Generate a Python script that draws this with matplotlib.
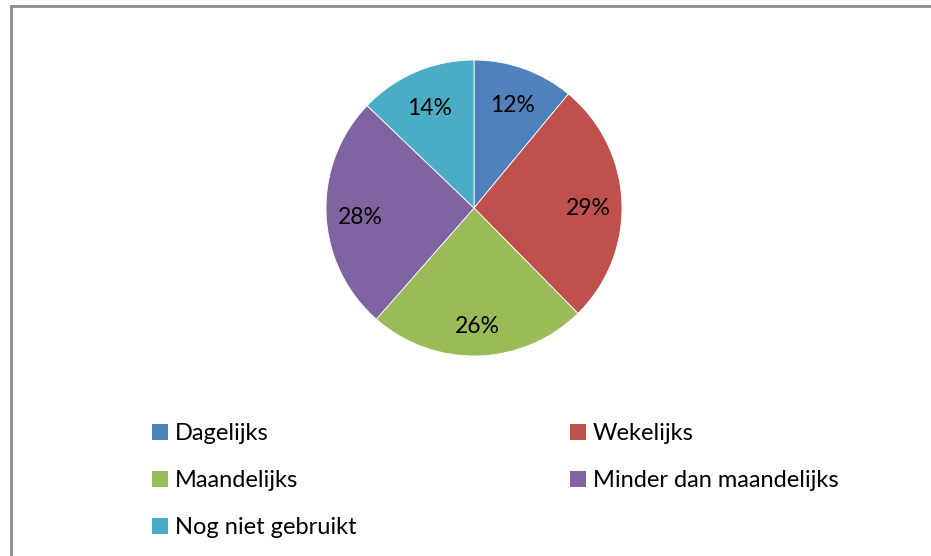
import matplotlib
matplotlib.use('Agg')
import matplotlib.pyplot as plt
from matplotlib.patches import Rectangle, Patch

# chart data
categories = ['Dagelijks', 'Wekelijks', 'Maandelijks', 'Minder dan maandelijks', 'Nog niet gebruikt']
values = [12, 29, 26, 28, 14]
colors = ['#4F81BD', '#C0504D', '#9BBB59', '#8064A2', '#4BACC6']

plt.rcParams['font.family'] = ['Lato', 'DejaVu Sans']

W, H = 931, 556
fig = plt.figure(figsize=(W / 100, H / 100), dpi=100)

# outer chart frame (cut off at right and bottom like the screenshot)
fig.patches.append(Rectangle((11 / W, -0.1), 1.2, (H - 6) / H + 0.1, transform=fig.transFigure,
                             fill=False, edgecolor='#8c8c8c', linewidth=2))

# pie axes: centre (474, 208) px, radius 148 px
cx, cy, r = 474, 208, 148
ax = fig.add_axes([(cx - r) / W, (H - cy - r) / H, 2 * r / W, 2 * r / H])
total = sum(values)
wedges, texts, autotexts = ax.pie(values, colors=colors, startangle=90, counterclock=False,
                                  autopct=lambda p: f'{p * total / 100:.0f}%', pctdistance=0.77,
                                  wedgeprops=dict(edgecolor='white', linewidth=0.6),
                                  textprops=dict(fontsize=16.5, color='black'))
# labels sit a little lower in the original
for t in autotexts:
    x, y = t.get_position()
    t.set_position((x, y - 5 / r))
ax.set_xlim(-1, 1)
ax.set_ylim(-1, 1)
ax.set_aspect('equal')
ax.axis('off')

# legend laid out row by row: reorder for matplotlib's column-wise filling
order = [0, 2, 4, 1, 3]
handles = [Patch(facecolor=colors[i], label=categories[i]) for i in order]
fig.legend(handles=handles, ncol=2, loc='upper left', bbox_to_anchor=(143 / W, 1 - 414 / H),
           frameon=False, fontsize=17, handlelength=0.65, handleheight=0.65,
           handletextpad=0.3, labelspacing=1.1, columnspacing=9.05, borderaxespad=0)

fig.savefig('out.png', dpi=100)
